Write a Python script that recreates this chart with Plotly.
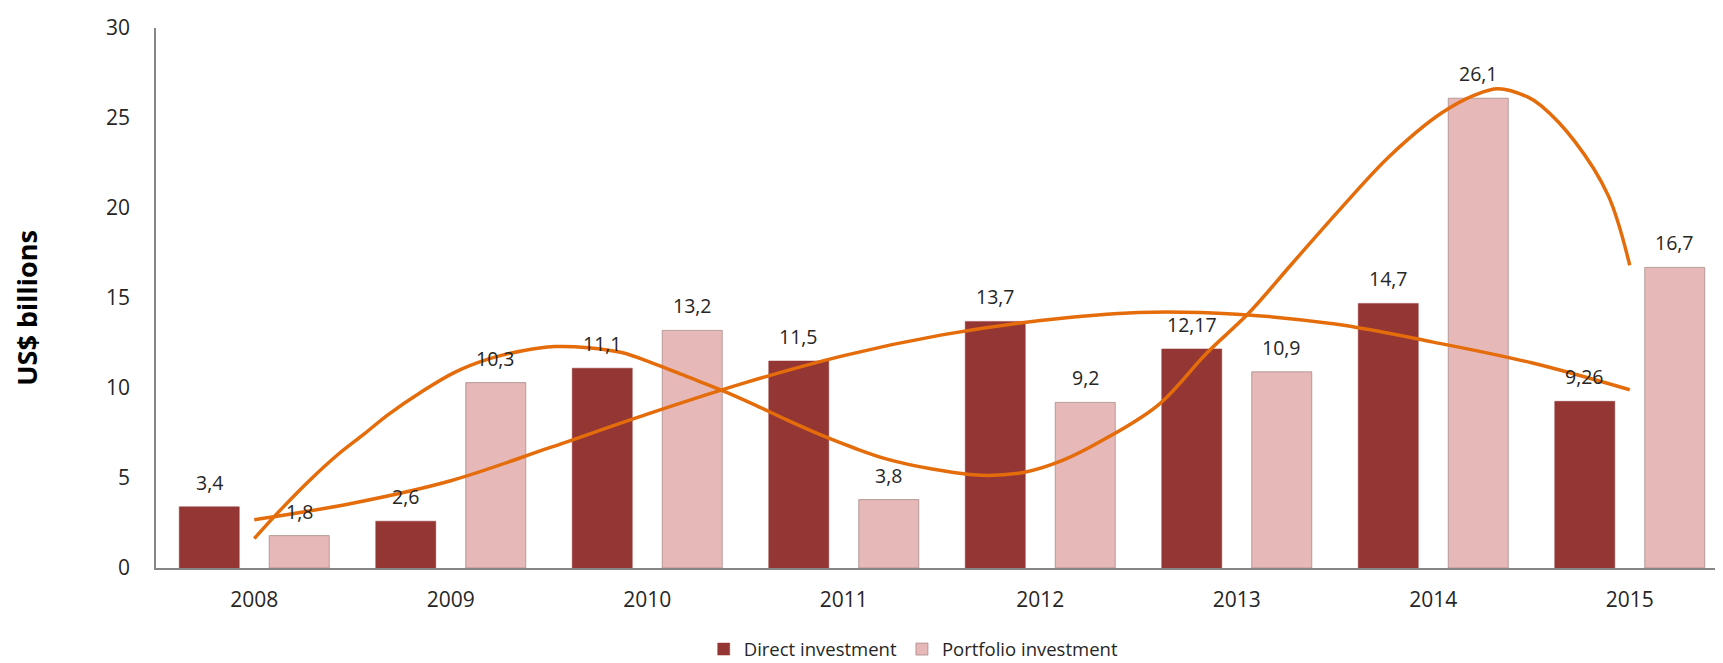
import plotly.graph_objects as go

years = ["2008", "2009", "2010", "2011", "2012", "2013", "2014", "2015"]
direct = [3.4, 2.6, 11.1, 11.5, 13.7, 12.17, 14.7, 9.26]
portfolio = [1.8, 10.3, 13.2, 3.8, 9.2, 10.9, 26.1, 16.7]
direct_labels = ["3,4", "2,6", "11,1", "11,5", "13,7", "12,17", "14,7", "9,26"]
portfolio_labels = ["1,8", "10,3", "13,2", "3,8", "9,2", "10,9", "26,1", "16,7"]

# Trendlines (x in category units, 0 = 2008)
direct_trend_x = [0, 0.5, 1, 1.5, 2, 2.5, 3, 3.5, 4, 4.5, 5, 5.5, 6, 6.5, 7]
direct_trend_y = [2.68, 3.6, 4.85, 6.67, 8.55, 10.3, 11.8, 12.95, 13.75, 14.2, 14.1, 13.55, 12.55, 11.4, 9.9]
portfolio_trend_x = [0, 0.14, 0.28, 0.42, 0.56, 0.68, 0.85, 1.02, 1.19, 1.36, 1.53, 1.70, 1.87, 2.04, 2.21, 2.38,
                     2.55, 2.71, 2.88, 3.05, 3.22, 3.45, 3.7, 3.92, 4.11, 4.31, 4.60, 4.85, 5.06,
                     5.28, 5.53, 5.78, 6.04, 6.21, 6.33, 6.48, 6.55, 6.72, 6.89, 7.0]
portfolio_trend_y = [1.64, 3.3, 4.85, 6.25, 7.45, 8.51, 9.78, 10.87, 11.60, 12.06, 12.30, 12.24, 11.97, 11.33, 10.60, 9.87,
                     9.05, 8.23, 7.41, 6.68, 6.05, 5.5, 5.15, 5.32, 5.96, 7.05, 9.05, 11.97, 14.15,
                     16.89, 19.98, 22.90, 25.26, 26.27, 26.63, 26.17, 25.67, 23.7, 20.7, 16.82]

DIRECT_COLOR = "#943634"
PORTFOLIO_COLOR = "#E6B9B8"
TREND_COLOR = "#E46C0A"
TEXT_COLOR = "#262626"
AXIS_COLOR = "#868686"
FONT = "Open Sans"
BARGAP = 0.084
BARGROUPGAP = 0.333

xpos = list(range(len(years)))

fig = go.Figure()
fig.add_trace(go.Bar(x=xpos, y=direct, name="Direct investment",
                     marker=dict(color=DIRECT_COLOR, line=dict(color=DIRECT_COLOR, width=0.5))))
fig.add_trace(go.Bar(x=xpos, y=portfolio, name="Portfolio investment",
                     marker=dict(color=PORTFOLIO_COLOR, line=dict(color="rgba(160,130,130,0.7)", width=1))))
fig.add_trace(go.Scatter(x=direct_trend_x, y=direct_trend_y, mode="lines", showlegend=False,
                         line=dict(color=TREND_COLOR, width=3.5, shape="spline", smoothing=1.0),
                         hoverinfo="skip"))
fig.add_trace(go.Scatter(x=portfolio_trend_x, y=portfolio_trend_y, mode="lines", showlegend=False,
                         line=dict(color=TREND_COLOR, width=3.5, shape="spline", smoothing=1.0),
                         hoverinfo="skip"))

offset = (1 - BARGAP) / 4
annotations = []
for i in xpos:
    annotations.append(dict(x=i - offset, y=direct[i], text=direct_labels[i], showarrow=False,
                            xref="x", yref="y", yanchor="middle", yshift=24.5,
                            font=dict(family=FONT, size=19.5, color=TEXT_COLOR)))
    annotations.append(dict(x=i + offset, y=portfolio[i], text=portfolio_labels[i], showarrow=False,
                            xref="x", yref="y", yanchor="middle", yshift=24.5,
                            font=dict(family=FONT, size=19.5, color=TEXT_COLOR)))
annotations.append(dict(x=-0.082, y=0.482, xref="paper", yref="paper", text="<b>US$ billions</b>",
                        textangle=-90, showarrow=False, xanchor="center", yanchor="middle",
                        font=dict(family=FONT, size=27, color="#000000")))

fig.update_layout(
    width=1723, height=663,
    margin=dict(l=148, r=3, t=20, b=94),
    plot_bgcolor="white", paper_bgcolor="white",
    barmode="group", bargap=BARGAP, bargroupgap=BARGROUPGAP,
    font=dict(family=FONT, color=TEXT_COLOR),
    annotations=annotations,
    legend=dict(orientation="h", x=0.482, xanchor="center", y=-0.151, yanchor="middle",
                font=dict(family=FONT, size=18.5, color=TEXT_COLOR), traceorder="normal"),
    xaxis=dict(range=[-0.5, 7.5], tickvals=xpos, ticktext=years, showline=True,
               linecolor=AXIS_COLOR, linewidth=1.5, showgrid=False, zeroline=False, ticks="",
               tickfont=dict(family=FONT, size=21, color=TEXT_COLOR), ticklabelstandoff=12),
    yaxis=dict(range=[0, 30], dtick=5, showline=True, linecolor=AXIS_COLOR, linewidth=1.5,
               showgrid=False, zeroline=False, ticks="",
               tickfont=dict(family=FONT, size=21, color=TEXT_COLOR), ticklabelstandoff=20),
)

fig.write_html("out.html")
